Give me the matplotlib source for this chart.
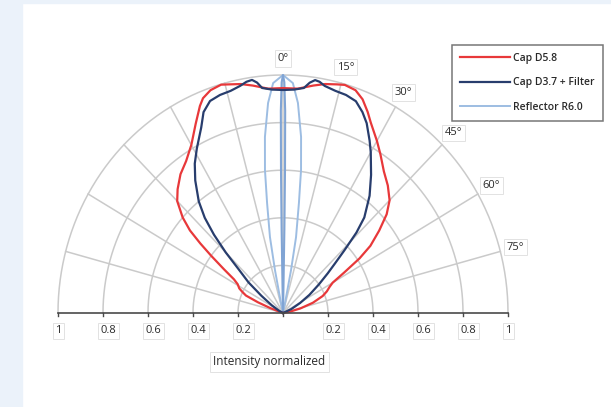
import numpy as np
import matplotlib.pyplot as plt
from matplotlib.patches import Rectangle

plt.rcParams['font.family'] = ['Open Sans', 'DejaVu Sans']

# polar samples: angle in degrees (0 = straight up), normalized intensity
cap58_deg = [-72, -70, -68, -66, -64, -62, -59, -57, -55, -53, -51.5, -50, -48, -45, -42, -38,
             -34, -30, -26, -23, -21.5, -19, -16, -14, -11, -8, -4, 0, 4, 8, 11, 14, 16, 19,
             21.5, 24, 26, 30, 33, 37, 41, 45, 48, 51, 54, 56, 58, 60, 62, 65, 68, 72, 76, 80, 84]
cap58_r = [0.0, 0.06, 0.12, 0.18, 0.20, 0.22, 0.235, 0.26, 0.32, 0.40, 0.47, 0.54, 0.60, 0.665,
           0.70, 0.74, 0.77, 0.815, 0.885, 0.945, 0.97, 0.99, 0.998, 0.99, 0.98, 0.965, 0.945,
           0.945, 0.945, 0.965, 0.98, 0.99, 0.997, 0.99, 0.965, 0.925, 0.89, 0.835, 0.795, 0.745,
           0.71, 0.67, 0.62, 0.55, 0.48, 0.41, 0.32, 0.255, 0.235, 0.215, 0.19, 0.14, 0.08, 0.03, 0.0]

cap37_deg = [-66, -62, -57, -53, -50, -47, -45, -43, -41, -38.6, -35, -32, -29, -25, -22.7,
             -20, -17, -14, -11.3, -9.5, -8, -6.8, -5.6, -3, 0, 3, 5.6, 7, 8.3, 9.5, 11, 14, 17,
             20, 22.7, 25, 28, 30, 34, 38, 42, 44, 46, 48, 50, 53, 57, 61, 66, 72]
cap37_r = [0.0, 0.02, 0.06, 0.12, 0.20, 0.27, 0.36, 0.45, 0.53, 0.60, 0.68, 0.74, 0.79, 0.86,
           0.915, 0.948, 0.958, 0.962, 0.973, 0.985, 0.989, 0.975, 0.95, 0.94, 0.937, 0.94, 0.95,
           0.975, 0.989, 0.985, 0.972, 0.962, 0.958, 0.947, 0.915, 0.88, 0.82, 0.78, 0.70, 0.625,
           0.54, 0.47, 0.38, 0.31, 0.26, 0.20, 0.14, 0.087, 0.04, 0.0]

refl_outer_deg = [-13, -12, -11.2, -10.3, -8.7, -7.6, -6.2, -4.3, -2.6, 0, 2.6, 4.3, 6.2, 7.6,
                  8.7, 10.3, 11.2, 12, 13]
refl_outer_r = [0.0, 0.05, 0.184, 0.324, 0.468, 0.606, 0.744, 0.885, 0.967, 1.0, 0.967, 0.885,
                0.744, 0.606, 0.468, 0.324, 0.184, 0.05, 0.0]
refl_inner_deg = [-1.2, -1.1, -1.0, -0.85, -0.65, -0.35, 0, 0.35, 0.65, 0.85, 1.0, 1.1, 1.2]
refl_inner_r = [0.0, 0.1, 0.35, 0.6, 0.85, 0.97, 1.0, 0.97, 0.85, 0.6, 0.35, 0.1, 0.0]

tick_vals = [-1, -0.8, -0.6, -0.4, -0.2, 0.2, 0.4, 0.6, 0.8, 1]
tick_text = ['1', '0.8', '0.6', '0.4', '0.2', '0.2', '0.4', '0.6', '0.8', '1']
angle_marks = [0, 15, 30, 45, 60, 75]

red = '#e8383a'
navy = '#283d6d'
lblue = '#9dbde2'
grid = '#cacaca'


def to_xy(deg, r):
    t = np.radians(np.asarray(deg, dtype=float))
    r = np.asarray(r, dtype=float)
    return r * np.sin(t), r * np.cos(t)


fig = plt.figure(figsize=(6.11, 4.07), dpi=100)
fig.patches.append(Rectangle((0, 0), 22 / 611, 1, transform=fig.transFigure,
                             color='#ebf2fa', zorder=0))
fig.patches.append(Rectangle((0, 1 - 3 / 407), 1, 3 / 407, transform=fig.transFigure,
                             color='#ebf2fa', zorder=0))

ax = fig.add_axes([58 / 611, 94 / 407, 450 / 611, 238 / 407])
ax.set_xlim(-1, 1)
ax.set_ylim(0, 1)
ax.axis('off')

# grid: arcs and spokes
tt = np.linspace(-90, 90, 361)
for rr in [0.2, 0.4, 0.6, 0.8, 1.0]:
    gx, gy = to_xy(tt, np.full_like(tt, rr))
    ax.plot(gx, gy, color=grid, lw=1.1, zorder=1, clip_on=False)
for a in range(-75, 90, 15):
    sx, sy = to_xy([a, a], [0, 1])
    ax.plot(sx, sy, color=grid, lw=1.1, zorder=1, clip_on=False)

# base axis with ticks
ax.plot([-1, 1], [0, 0], color='#4a4a4a', lw=1.2, zorder=4, clip_on=False)
for v in tick_vals + [0]:
    ax.plot([v, v], [0, -0.014], color='#4a4a4a', lw=1.0, zorder=4, clip_on=False)
box = dict(boxstyle='square,pad=0.25', fc='white', ec='#e2e2e2', lw=0.7)
for v, s in zip(tick_vals, tick_text):
    ax.text(v - 0.012, -0.075, s, ha='left', va='center', fontsize=8, color='#2a2a2a',
            bbox=box, clip_on=False)
ax.text(-0.06, -0.205, 'Intensity normalized', ha='center', va='center', fontsize=8.5,
        color='#2a2a2a', bbox=dict(boxstyle='square,pad=0.3', fc='white', ec='#e2e2e2', lw=0.7),
        clip_on=False)

for a in angle_marks:
    lx, ly = to_xy(a, 1.07)
    ax.text(lx, ly, '%d°' % a, ha='center', va='center', fontsize=8, color='#2a2a2a',
            bbox=box, clip_on=False, zorder=6)

# curves
x, y = to_xy(refl_outer_deg, refl_outer_r)
l3, = ax.plot(x, y, color=lblue, lw=1.4, zorder=3, clip_on=False)
x, y = to_xy(refl_inner_deg, refl_inner_r)
ax.plot(x, y, color='#80a4d4', lw=1.5, zorder=3, clip_on=False)
x, y = to_xy(cap58_deg, cap58_r)
l1, = ax.plot(x, y, color=red, lw=1.6, zorder=3, clip_on=False)
x, y = to_xy(cap37_deg, cap37_r)
l2, = ax.plot(x, y, color=navy, lw=1.6, zorder=3, clip_on=False)

leg = ax.legend([l1, l2, l3], ['Cap D5.8', 'Cap D3.7 + Filter', 'Reflector R6.0'],
                loc='upper left', bbox_to_anchor=(452 / 611, 1 - 45 / 407),
                bbox_transform=fig.transFigure, frameon=True, fancybox=False,
                prop={'size': 7.5, 'weight': 'semibold'},
                handlelength=4.8, handletextpad=0.35, labelspacing=1.3, borderpad=0.75,
                borderaxespad=0)
leg.get_frame().set_edgecolor('#555555')
leg.get_frame().set_linewidth(1.1)
for t in leg.get_texts():
    t.set_color('#2a2a2a')

fig.savefig('out.png', dpi=100, facecolor='white')
